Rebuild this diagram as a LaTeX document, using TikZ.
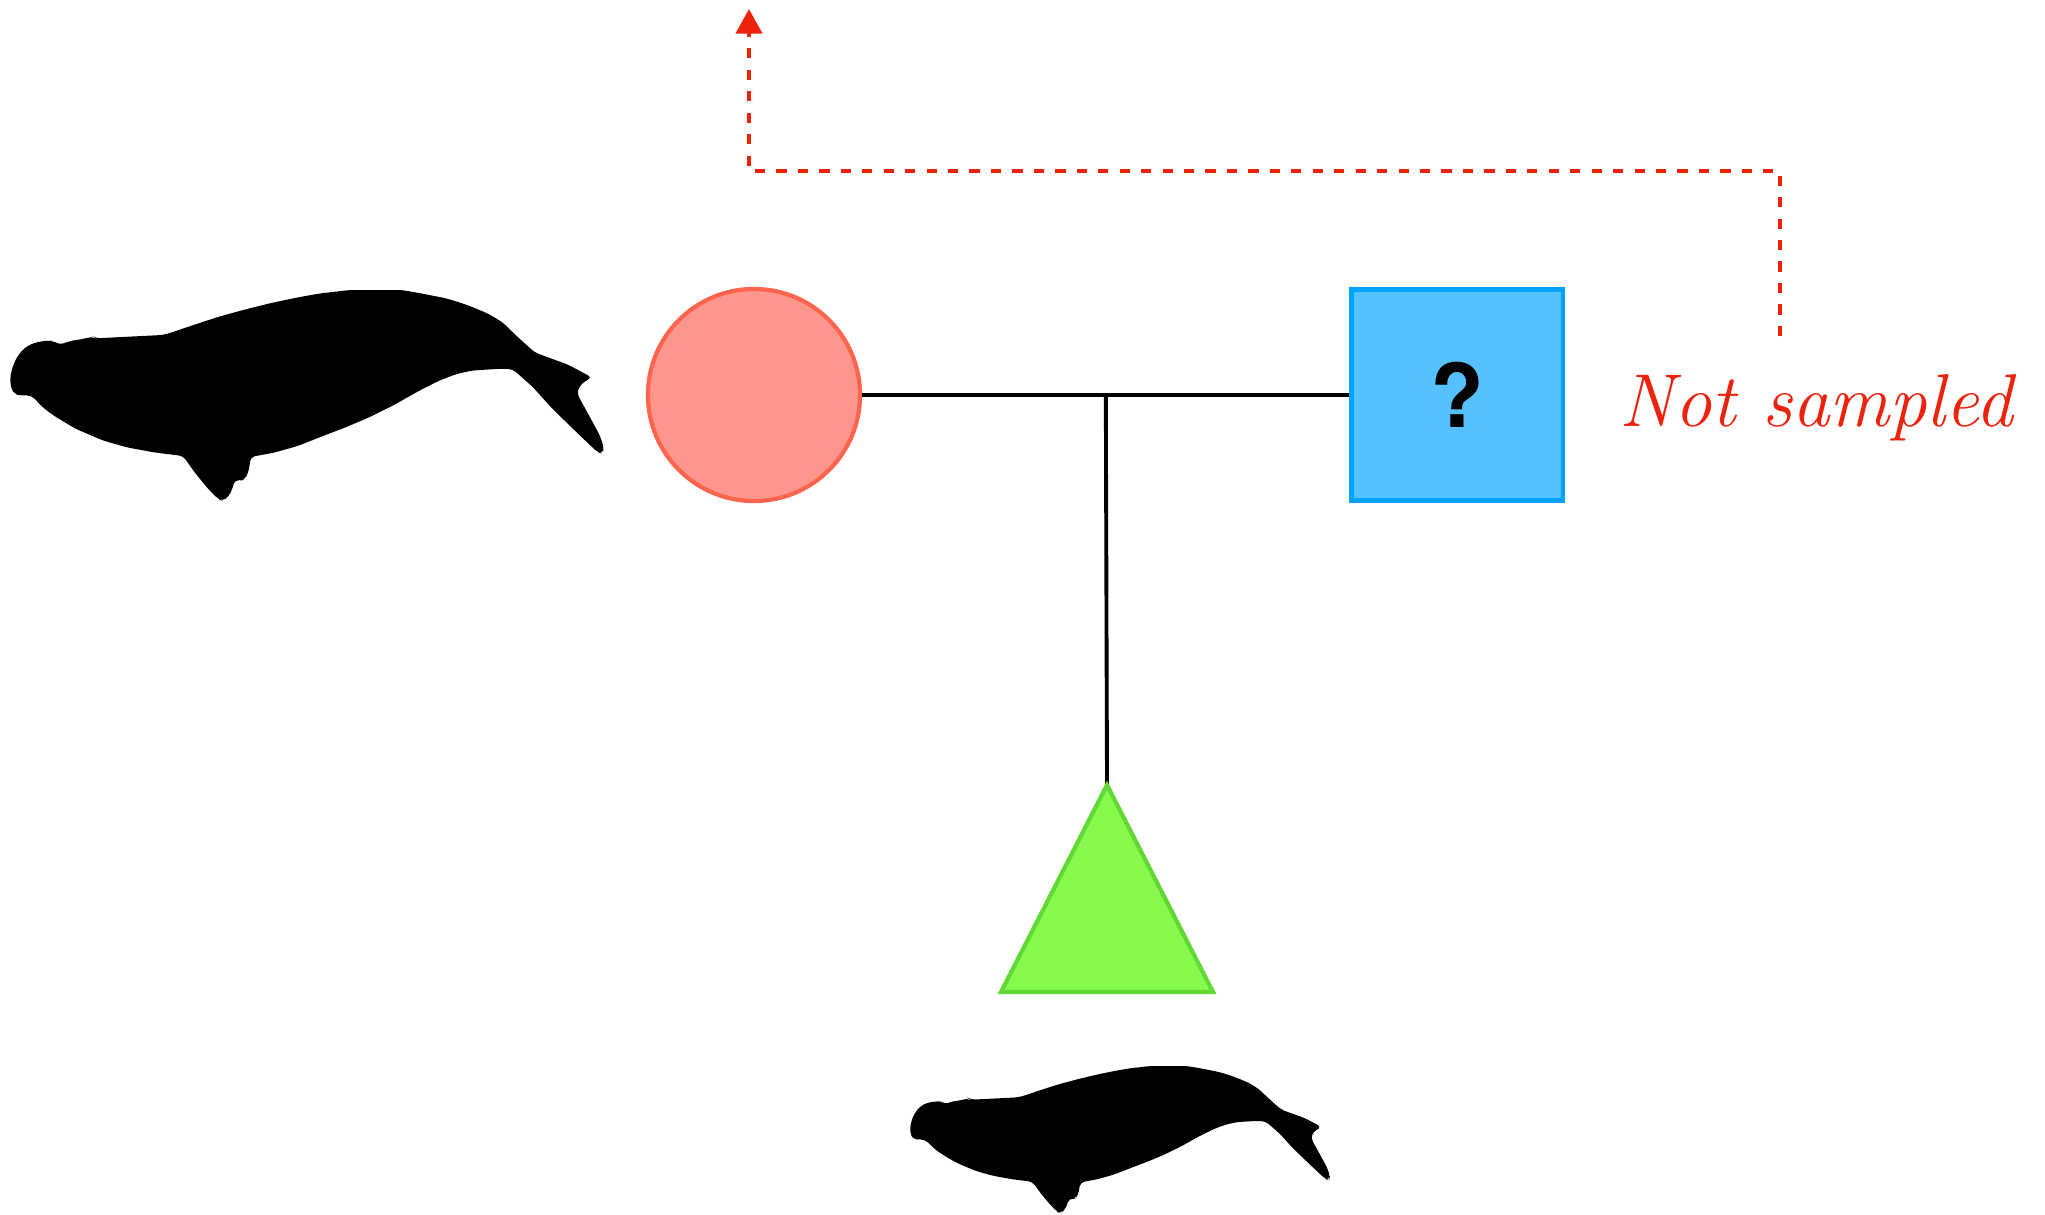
\documentclass[tikz,border=0pt]{standalone}
\usepackage{fontspec}
\newfontfamily\heros{TeX Gyre Heros}
\usepackage{tikz}
\usetikzlibrary{positioning}
\usetikzlibrary{calc}
\usetikzlibrary{arrows.meta}

\definecolor{salmonfill}{HTML}{FF968D}
\definecolor{salmonline}{HTML}{FF644E}
\definecolor{skyfill}{HTML}{56C1FF}
\definecolor{skyline}{HTML}{00A2FF}
\definecolor{limefill}{HTML}{88FA4E}
\definecolor{limeline}{HTML}{61D836}
\definecolor{alertred}{HTML}{EE220C}

\begin{document}
\begin{tikzpicture}[x=0.01cm, y=-0.01cm,
    female/.style={circle, draw=salmonline, fill=salmonfill, line width=1.2pt, minimum size=2.12cm, inner sep=0pt},
    male/.style={rectangle, draw=skyline, fill=skyfill, line width=1.2pt, minimum size=2.11cm, inner sep=0pt},
    calf/.style={draw=limeline, fill=limefill, line width=1.2pt},
    link/.style={line width=1.1pt},
    missing/.style={draw=alertred, line width=1.3pt, dash pattern=on 2.9pt off 3.2pt, -{Triangle[width=7.4pt,length=7pt]}},
    whale/.pic={
        \fill[black, rounded corners=1.2pt, shift={(-34,-64)}]
            (250,207) -- (420,197) -- (440,190) -- (500,166) -- (560,143) -- (625,122)
            -- (690,103) -- (750,88) -- (810,75) -- (890,64) -- (1020,64) -- (1060,72)
            -- (1130,88) -- (1170,102) -- (1200,115) -- (1240,135) -- (1275,160)
            -- (1310,200) -- (1355,248) -- (1370,255) -- (1440,285) -- (1500,323)
            -- (1480,335) -- (1468,350) -- (1462,370) -- (1490,430) -- (1520,495)
            -- (1530,530) -- (1527,548) -- (1515,545) -- (1470,495) -- (1400,415)
            -- (1350,350) -- (1300,298) -- (1270,297) -- (1200,302) -- (1160,312)
            -- (1115,332) -- (1060,365) -- (1000,405) -- (940,440) -- (880,470)
            -- (820,497) -- (760,525) -- (700,545) -- (640,558) -- (638,580)
            -- (634,605) -- (625,625) -- (615,628) -- (600,625) -- (595,650)
            -- (585,675) -- (570,688) -- (560,684) -- (535,655) -- (500,605)
            -- (470,555) -- (400,545) -- (330,530) -- (270,510) -- (200,475)
            -- (150,440) -- (120,415) -- (88,376) -- (60,376) -- (45,372)
            -- (37,355) -- (34,330) -- (38,300) -- (50,265) -- (70,235) -- (95,220)
            -- (130,213) -- (145,216) -- (155,225) -- (170,222) -- (185,215)
            -- (200,212) -- (215,210) -- (230,205) -- (245,203) -- cycle;
    }]

    \useasboundingbox (0,0) rectangle (2045,1215);

    \node[female] (mother) at (754,395) {};
    \node[male, right=4.87cm of mother] (father) {\heros\bfseries\fontsize{25}{30}\selectfont ?};
    \node[anchor=base west, text=alertred, inner sep=0pt] (nosample) at (1619,426) {\itshape\fontsize{21.3}{26}\selectfont Not sampled};

    \coordinate (mid) at ($(mother.east)!0.5!(father.west)$);
    \coordinate (offspring) at (1107,785);

    \draw[link] (mother) -- (father);
    \draw[link] (mid) -- (offspring);
    \draw[calf] (offspring) -- ++(106,207) -- ++(-212,0) -- cycle;

    % the dashed tag from the label up past the mother
    \coordinate (tagfoot) at (1780,336);
    \coordinate (tagtip) at (749,9);
    \draw[missing] (tagfoot) -- ++(0,-165) -| (tagtip);

    \pic[xscale=0.397, yscale=0.338] (adult) at (10,290) {whale};
    \pic[xscale=0.2807, yscale=0.2356] (young) at (910,1066) {whale};

\end{tikzpicture}
\end{document}
